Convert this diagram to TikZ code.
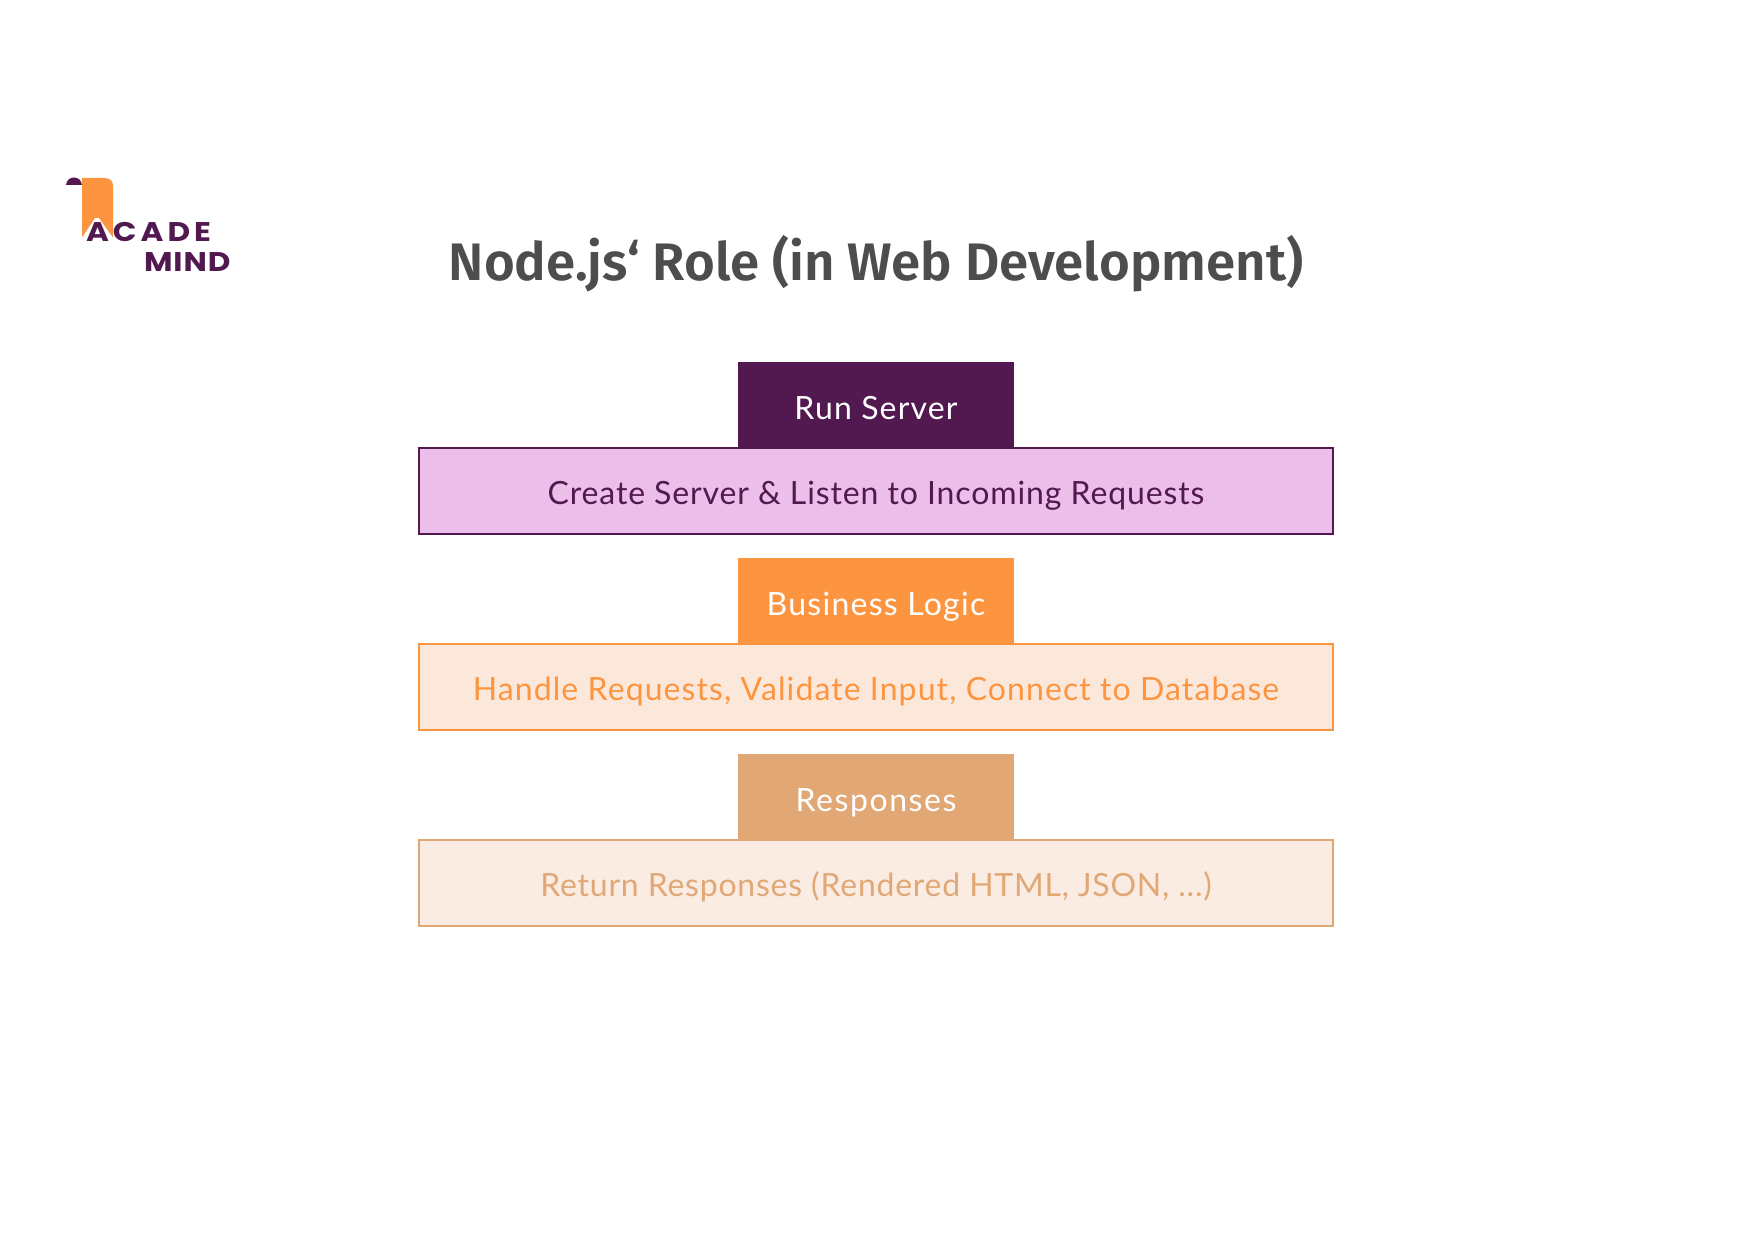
\documentclass[tikz,border=0pt]{standalone}
\usepackage{fontspec}
\setmainfont{Lato}
\newfontfamily\titlefont{Fira Sans}[BoldFont={Fira Sans SemiBold}]
\newfontfamily\logofont{Poppins}
\definecolor{purp}{HTML}{521850}
\definecolor{pinkf}{HTML}{ECBFEB}
\definecolor{orng}{HTML}{FD9540}
\definecolor{orngl}{HTML}{FCE8DA}
\definecolor{tan1}{HTML}{E1A876}
\definecolor{tanl}{HTML}{FAECE2}
\definecolor{titlec}{HTML}{4D4D4D}
\tikzset{
  x=0.5pt,y=-0.5pt,
  lsp/.style={font=\fontsize{16}{18}\selectfont\addfontfeature{LetterSpace=#1}},
  headbox/.style={minimum width=138pt,minimum height=43pt,inner sep=0pt,outer sep=0pt,text=white,text height=16pt,text depth=2pt},
  bodybox/.style={minimum width=457pt,minimum height=42.8pt,inner sep=0pt,outer sep=0pt,line width=1.05pt,text height=15.6pt,text depth=2pt},
  logotext/.style={inner sep=0pt,outer sep=0pt,anchor=base west,text=purp,font=\logofont\bfseries\fontsize{13.5}{15}\selectfont}
}
\begin{document}
\begin{tikzpicture}
\useasboundingbox (0,0) rectangle (1754,1240);
\fill[white] (0,0) rectangle (1754,1240);
% logo
\fill[orng] (82,178) -- (104,178) .. controls (110,178) and (113,181) .. (113,186) -- (113,237.5) -- (99,218) -- (95,218) -- (82,237.5) -- cycle;
\fill[purp] (66,185) .. controls (67,175) and (81,175) .. (82,185) -- cycle;
\node[logotext] (logoa) at (86,242) {\scalebox{1.15}[1]{\addfontfeature{LetterSpace=13}ACADE}};
\node[logotext] (logob) at (144,272) {\scalebox{1.15}[1]{\addfontfeature{LetterSpace=3}MIND}};
% title
\node[inner sep=0pt,text=titlec,font=\titlefont\bfseries\fontsize{26.4}{30}\selectfont] (title) at (876,264) {Node.js‘ Role (in Web Development)};
% rows
\node[bodybox,lsp=2.75,draw=purp,fill=pinkf,text=purp] (b1) at (876,491) {Create Server \& Listen to Incoming Requests};
\node[headbox,lsp=3.7,fill=purp] (h1) at (876,405.5) {Run Server};
\node[bodybox,lsp=3.4,draw=orng,fill=orngl,text=orng] (b2) at (876,687) {Handle Requests, Validate Input, Connect to Database};
\node[headbox,lsp=4,fill=orng] (h2) at (876,601) {Business Logic};
\node[bodybox,lsp=2.4,draw=tan1,fill=tanl,text=tan1] (b3) at (876,883) {Return Responses (Rendered HTML, JSON, ...)};
\node[headbox,lsp=4.9,fill=tan1] (h3) at (876,797) {Responses};
\end{tikzpicture}
\end{document}
